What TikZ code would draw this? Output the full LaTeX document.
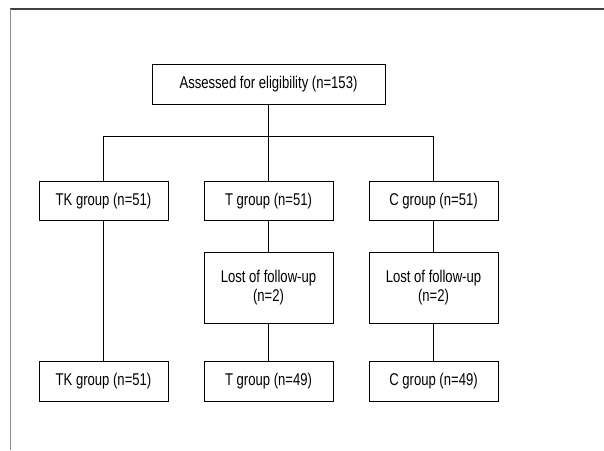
\documentclass[tikz,border=0pt]{standalone}
\usepackage{fontspec}
\setmainfont[FakeStretch=0.77]{Liberation Sans}
\usetikzlibrary{positioning}

\begin{document}
\begin{tikzpicture}[node distance=36pt,every node/.style={draw, outer sep=0pt, inner sep=0pt, font=\fontsize{17}{19}\selectfont}]
\tikzset{grpbox/.style={minimum width=129pt,minimum height=39.5pt},
  lostbox/.style={minimum width=129pt,minimum height=71pt,align=center},
  link/.style={line width=0.8pt}}

  \useasboundingbox (0,0) rectangle (604pt,-450pt);
  % page frame
  \draw[line width=1.2pt,black!75] (10pt,-9pt) -- (604pt,-9pt);
  \draw[line width=1.4pt,black!45] (10.5pt,-9pt) -- (10.5pt,-450pt);

  \node(AS) [minimum width=233pt,minimum height=40pt,line width=0.8pt] at (268.5pt,-84pt) {Assessed for eligibility (n=153)};

  \node(T1)  [grpbox,link,below=77pt of AS]  {T group (n=51)};
  \node(TK1) [grpbox,link,left=of T1]        {TK group (n=51)};
  \node(C1)  [grpbox,link,right=of T1]       {C group (n=51)};

  \node(T2)  [lostbox,link,below=32pt of T1] {Lost of follow-up\\(n=2)};
  \node(C2)  [lostbox,link,below=32pt of C1] {Lost of follow-up\\(n=2)};

  \node(T3)  [grpbox,link,below=38pt of T2]  {T group (n=49)};
  \node(TK3) [grpbox,link,left=of T3]        {TK group (n=51)};
  \node(C3)  [grpbox,link,below=38pt of C2]  {C group (n=49)};

  \draw[link] (AS.south) -- ++(0,-32.5pt) coordinate(SPLIT);
  \draw[link] (TK1.north) |- (SPLIT) -| (C1.north);
  \draw[link] (SPLIT) -- (T1.north);

  \draw[link] (TK1) -- (TK3);
  \draw[link] (T1) -- (T2);
  \draw[link] (T2) -- (T3);
  \draw[link] (C1) -- (C2);
  \draw[link] (C2) -- (C3);
\end{tikzpicture}
\end{document}
